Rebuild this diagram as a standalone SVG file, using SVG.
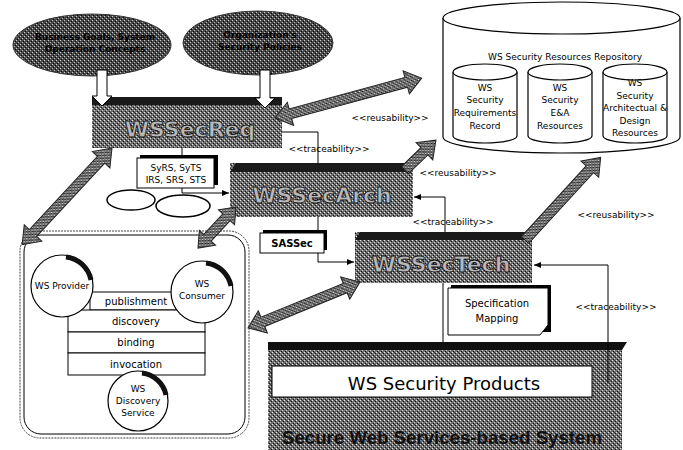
<svg xmlns="http://www.w3.org/2000/svg" width="683" height="450" viewBox="0 0 683 450">
<defs>
<pattern id="dith" width="4" height="4" patternUnits="userSpaceOnUse">
<rect width="4" height="4" fill="#707070"/>
<rect x="0" y="0" width="1" height="1" fill="#e8e8e8"/>
<rect x="2" y="2" width="1" height="1" fill="#d0d0d0"/>
<rect x="1" y="3" width="1" height="1" fill="#111"/>
<rect x="3" y="1" width="1" height="1" fill="#111"/>
<rect x="2" y="0" width="1" height="1" fill="#444"/>
</pattern>
<pattern id="dark" width="4" height="4" patternUnits="userSpaceOnUse">
<rect width="4" height="4" fill="#4a4a4a"/>
<rect x="0" y="0" width="1" height="1" fill="#ccc"/>
<rect x="2" y="2" width="1" height="1" fill="#bbb"/>
<rect x="1" y="3" width="1" height="1" fill="#000"/>
<rect x="3" y="1" width="1" height="1" fill="#000"/>
</pattern>
<marker id="ah" markerWidth="8" markerHeight="8" refX="7" refY="4" orient="auto" markerUnits="userSpaceOnUse">
<path d="M0,1 L7,4 L0,7 Z" fill="#000"/>
</marker>
<style>
.t{font-family:"DejaVu Sans","Liberation Sans",sans-serif;fill:#000}
.lbl{font-family:"DejaVu Sans","Liberation Sans",sans-serif;font-size:9px;fill:#000}
.big{font-family:"DejaVu Sans","Liberation Sans",sans-serif;font-size:22px;font-weight:bold;fill:#b8b8b8;stroke:#111;stroke-width:0.8}
.garrow{fill:url(#dith);stroke:#222;stroke-width:1}
.ln{fill:none;stroke:#000;stroke-width:1}
.doc{fill:#fff;stroke:#000;stroke-width:1}
.circ{fill:#fff;stroke:#000;stroke-width:1.2}
.shade{fill:none;stroke:#111;stroke-width:5}
.cyl{fill:#fff;stroke:#000;stroke-width:1.2}
</style>
</defs>

<!-- top ellipses -->
<g id="goals">
<ellipse cx="92" cy="45" rx="79" ry="31" fill="url(#dark)" stroke="#333"/>
<text class="t" x="95" y="40" font-size="9" font-weight="bold" text-anchor="middle">Business Goals, System</text>
<text class="t" x="95" y="52" font-size="9" font-weight="bold" text-anchor="middle">Operation Concepts</text>
</g>
<g id="policies">
<ellipse cx="258" cy="43" rx="75" ry="32" fill="url(#dark)" stroke="#333"/>
<text class="t" x="260" y="38" font-size="9" font-weight="bold" text-anchor="middle">Organization's</text>
<text class="t" x="260" y="50" font-size="9" font-weight="bold" text-anchor="middle">Security Policies</text>
</g>

<!-- repository -->
<g id="repository">
<path class="cyl" d="M443,18 L443,137 A118.5,16 0 0 0 680,137 L680,18"/>
<ellipse class="cyl" cx="561.5" cy="18" rx="118.5" ry="16"/>
<text class="lbl" x="565" y="60" text-anchor="middle">WS Security Resources Repository</text>
</g>
<g id="req-record">
<path class="cyl" d="M453,72 L453,136 A32,7 0 0 0 517,136 L517,72"/>
<ellipse class="cyl" cx="485" cy="72" rx="32" ry="8"/>
<text class="lbl" x="485" y="91" text-anchor="middle">WS</text>
<text class="lbl" x="485" y="103" text-anchor="middle">Security</text>
<text class="lbl" x="485" y="116" text-anchor="middle">Requirements</text>
<text class="lbl" x="485" y="129" text-anchor="middle">Record</text>
</g>
<g id="ea-resources">
<path class="cyl" d="M528,72 L528,136 A32,7 0 0 0 592,136 L592,72"/>
<ellipse class="cyl" cx="560" cy="72" rx="32" ry="8"/>
<text class="lbl" x="560" y="91" text-anchor="middle">WS</text>
<text class="lbl" x="560" y="103" text-anchor="middle">Security</text>
<text class="lbl" x="560" y="116" text-anchor="middle">E&amp;A</text>
<text class="lbl" x="560" y="129" text-anchor="middle">Resources</text>
</g>
<g id="arch-resources">
<path class="cyl" d="M603,72 L603,136 A32,7 0 0 0 667,136 L667,72"/>
<ellipse class="cyl" cx="635" cy="72" rx="32" ry="8"/>
<text class="lbl" x="635" y="86" text-anchor="middle">WS</text>
<text class="lbl" x="635" y="99" text-anchor="middle">Security</text>
<text class="lbl" x="635" y="111" text-anchor="middle">Architectual &amp;</text>
<text class="lbl" x="635" y="124" text-anchor="middle">Design</text>
<text class="lbl" x="635" y="136" text-anchor="middle">Resources</text>
</g>

<!-- products system -->
<g id="system">
<rect x="268" y="342" width="354" height="108" fill="url(#dith)"/>
<polygon points="268,342 627,342 622,350 268,350" fill="#111"/>
<rect x="272" y="366" width="320" height="31" fill="#fff" stroke="#000"/>
<text class="t" x="444" y="390" font-size="18" text-anchor="middle">WS Security Products</text>
<text x="442" y="444" font-family="Liberation Sans, Arial, sans-serif" font-size="19" font-weight="bold" fill="#111" text-anchor="middle" textLength="320" lengthAdjust="spacingAndGlyphs">Secure Web Services-based System</text>
</g>

<!-- WSSecReq -->
<g id="wssecreq">
<rect x="92" y="97" width="190" height="51" fill="url(#dith)"/>
<polygon points="92,97 282,97 282,105 92,105" fill="#1a1a1a"/>
<text class="big" x="190" y="137" text-anchor="middle">WSSecReq</text>
</g>
<!-- WSSecArch -->
<g id="wssecarch">
<rect x="230" y="163" width="183" height="54" fill="url(#dith)"/>
<polygon points="236,163 413,163 410,172 230,172" fill="#1a1a1a"/>
<text class="big" x="322" y="203" text-anchor="middle">WSSecArch</text>
</g>
<!-- WSSecTech -->
<g id="wssectech">
<rect x="355" y="232" width="177" height="51" fill="url(#dith)"/>
<polygon points="360,232 532,232 530,240 355,240" fill="#1a1a1a"/>
<text class="big" x="441" y="272" text-anchor="middle">WSSecTech</text>
</g>

<!-- documents -->
<g id="doc-syrs">
<rect x="140" y="155" width="78" height="30" fill="#000"/>
<rect class="doc" x="137" y="158" width="77" height="30"/>
<text class="lbl" x="176" y="171" text-anchor="middle">SyRS, SyTS</text>
<text class="lbl" x="176" y="183" text-anchor="middle">IRS, SRS, STS</text>
</g>
<g id="ovals">
<ellipse cx="131" cy="200" rx="24" ry="10" fill="#fff" stroke="#000" stroke-width="1.5"/>
<ellipse cx="183" cy="206" rx="27" ry="11" fill="#fff" stroke="#000" stroke-width="1.5"/>
</g>
<g id="doc-sassec">
<rect x="263" y="230" width="64" height="20" fill="#000"/>
<rect class="doc" x="260" y="233" width="64" height="20"/>
<text class="t" x="292" y="247" font-size="10" font-weight="bold" text-anchor="middle">SASSec</text>
</g>
<g id="doc-spec">
<rect x="451" y="285" width="100" height="47" fill="#000"/>
<path class="doc" d="M448,288 L548,288 L548,325 L540,335 L448,335 Z"/>
<text class="t" x="497" y="307" font-size="10" text-anchor="middle">Specification</text>
<text class="t" x="497" y="322" font-size="10" text-anchor="middle">Mapping</text>
</g>

<!-- Web services container -->
<g id="ws-container">
<rect x="20" y="231" width="229" height="207" rx="20" fill="none" stroke="#444" stroke-width="1" stroke-dasharray="2 1"/>
<rect x="24" y="235" width="221" height="199" rx="17" fill="none" stroke="#000" stroke-width="1"/>
</g>
<g id="ws-table">
<rect x="90" y="292" width="88" height="18" fill="#fff" stroke="#000"/>
<rect x="68" y="310" width="137" height="22" fill="#fff" stroke="#000"/>
<rect x="68" y="332" width="137" height="21" fill="#fff" stroke="#000"/>
<rect x="68" y="353" width="137" height="22" fill="#fff" stroke="#000"/>
<text class="t" x="136" y="305" font-size="10" text-anchor="middle">publishment</text>
<text class="t" x="136" y="325" font-size="10" text-anchor="middle">discovery</text>
<text class="t" x="136" y="346" font-size="10" text-anchor="middle">binding</text>
<text class="t" x="136" y="368" font-size="10" text-anchor="middle">invocation</text>
</g>
<g id="ws-provider">
<circle class="circ" cx="62" cy="286" r="31"/>
<path class="shade" d="M66,257 A29,29 0 0 1 91,280"/>
<text class="lbl" x="62" y="289" text-anchor="middle">WS Provider</text>
</g>
<g id="ws-consumer">
<circle class="circ" cx="202" cy="292" r="31"/>
<path class="shade" d="M206,263 A29,29 0 0 1 231,286"/>
<text class="lbl" x="202" y="287" text-anchor="middle">WS</text>
<text class="lbl" x="202" y="299" text-anchor="middle">Consumer</text>
</g>
<g id="ws-discovery">
<circle class="circ" cx="138" cy="401" r="30"/>
<path class="shade" d="M142,373 A28,28 0 0 1 166,395"/>
<text class="lbl" x="138" y="392" text-anchor="middle">WS</text>
<text class="lbl" x="138" y="404" text-anchor="middle">Discovery</text>
<text class="lbl" x="138" y="416" text-anchor="middle">Service</text>
</g>

<!-- connectors -->
<g id="connectors">
<polygon points="97,70 107,70 107,96 112,96 102,106 92,96 97,96" fill="#fff" stroke="#000"/>
<polygon points="260,70 270,70 270,98 275,98 265,108 255,98 260,98" fill="#fff" stroke="#000"/>
<polygon class="garrow" transform="translate(112,148) rotate(132.9)" points="0,0 16,-12 16,-5 116,-5 116,-12 132,0 116,12 116,5 16,5 16,12"/>
<polygon class="garrow" transform="translate(236,207) rotate(132.8)" points="0,0 14,-11 14,-5 42,-5 42,-11 56,0 42,11 42,5 14,5 14,11"/>
<polygon class="garrow" transform="translate(360,282) rotate(157.7)" points="0,0 16,-12 16,-5 105,-5 105,-12 121,0 105,12 105,5 16,5 16,12"/>
<polygon class="garrow" transform="translate(275,118) rotate(-15.2)" points="0,0 16,-12 16,-5 136,-5 136,-12 152,0 136,12 136,5 16,5 16,12"/>
<polygon class="garrow" transform="translate(405,170) rotate(-44)" points="0,-5 27,-5 27,-12 43,0 27,12 27,5 0,5"/>
<polygon class="garrow" transform="translate(525,240) rotate(-47.5)" points="0,-5 96,-5 96,-12 112,0 96,12 96,5 0,5"/>
<polyline class="ln" points="282,132 318,132 318,163"/>
<line class="ln" x1="318" y1="217" x2="318" y2="230"/>
<polyline class="ln" points="318,253 318,262 354,262" marker-end="url(#ah)"/>
<line class="ln" x1="182" y1="148" x2="182" y2="155"/>
<polyline class="ln" points="182,188 182,193 229,193" marker-end="url(#ah)"/>
<polyline class="ln" points="445,232 445,197 414,197" marker-end="url(#ah)"/>
<polyline class="ln" points="608,383 608,265 534,265" marker-end="url(#ah)"/>
<line class="ln" x1="443" y1="283" x2="443" y2="342"/>
<text class="lbl" x="390" y="121" text-anchor="middle">&lt;&lt;reusability&gt;&gt;</text>
<text class="lbl" x="329" y="152" text-anchor="middle">&lt;&lt;traceability&gt;&gt;</text>
<text class="lbl" x="458" y="176" text-anchor="middle">&lt;&lt;reusability&gt;&gt;</text>
<text class="lbl" x="453" y="225" text-anchor="middle">&lt;&lt;traceability&gt;&gt;</text>
<text class="lbl" x="616" y="218" text-anchor="middle">&lt;&lt;reusability&gt;&gt;</text>
<text class="lbl" x="616" y="310" text-anchor="middle">&lt;&lt;traceability&gt;&gt;</text>
</g>
</svg>
